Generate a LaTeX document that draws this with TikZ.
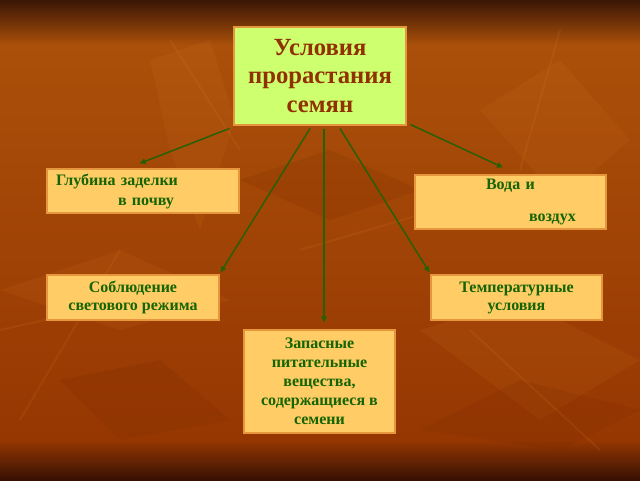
\documentclass[tikz,border=0pt]{standalone}
\usepackage{fontspec}
\setmainfont{Liberation Serif}
\usetikzlibrary{arrows.meta,calc}
\definecolor{bgA}{RGB}{58,22,4}
\definecolor{bgB}{RGB}{170,80,10}
\definecolor{bgC}{RGB}{150,55,2}
\definecolor{bgD}{RGB}{55,16,2}
\definecolor{leafc}{RGB}{220,130,40}
\definecolor{leafd}{RGB}{120,40,0}
\definecolor{titlefill}{RGB}{206,255,110}
\definecolor{titletext}{RGB}{145,48,0}
\definecolor{boxfill}{RGB}{255,204,102}
\definecolor{boxline}{RGB}{230,150,60}
\definecolor{txtgreen}{RGB}{20,100,0}
\definecolor{arrgreen}{RGB}{40,95,0}
\begin{document}
\begin{tikzpicture}[x=0.75pt,y=-0.75pt,
  titlebox/.style={draw=boxline, fill=titlefill, line width=0.8pt, inner sep=0pt,
    text=titletext, align=center, font=\fontsize{18.5}{21.4}\selectfont\bfseries},
  box/.style={draw=boxline, fill=boxfill, line width=0.8pt, inner sep=0pt,
    text=txtgreen, font=\fontsize{12}{13.5}\selectfont\bfseries},
  arr/.style={draw=arrgreen, line width=1.1pt, -{Triangle[length=4.5pt,width=4pt]}},
  leaf/.style={fill=leafc, opacity=0.10},
  leafdark/.style={fill=leafd, opacity=0.18},
  vein/.style={draw=leafc, opacity=0.13, line width=1.5pt}]
\useasboundingbox (0,0) rectangle (640,480);
% background
\shade[top color=bgA, bottom color=bgB] (0,0) rectangle (640,45);
\shade[top color=bgB, bottom color=bgC] (0,45) rectangle (640,440);
\shade[top color=bgC, bottom color=bgD] (0,440) rectangle (640,480);
% faint leaves
\fill[leaf] (150,60) -- (210,40) -- (235,120) -- (200,230) -- (170,150) -- cycle;
\fill[leaf] (0,290) -- (120,250) -- (230,300) -- (120,330) -- cycle;
\fill[leaf] (480,110) -- (560,60) -- (630,140) -- (560,200) -- cycle;
\fill[leaf] (420,330) -- (520,300) -- (640,360) -- (540,420) -- cycle;
\fill[leafdark] (240,180) -- (330,150) -- (420,190) -- (330,220) -- cycle;
\fill[leafdark] (60,380) -- (160,360) -- (230,420) -- (120,440) -- cycle;
\fill[leafdark] (420,430) -- (520,380) -- (640,410) -- (560,450) -- cycle;
\draw[vein] (170,40) -- (240,150);
\draw[vein] (560,30) -- (520,170);
\draw[vein] (20,420) -- (120,250);
\draw[vein] (300,250) -- (470,200);
\draw[vein] (470,330) -- (600,450);
\draw[vein] (0,330) -- (90,310);
% nodes
\node[titlebox, minimum width=129pt, minimum height=73.5pt] (title) at (320,76)
  {Условия\\прорастания\\семян};
\node[box, minimum width=144pt, minimum height=33pt, text width=130.5pt, align=left,
  font=\fontsize{12}{15}\selectfont\bfseries] (glub) at (143,191)
  {Глубина заделки\\\hspace*{46.5pt}в почву};
\node[box, minimum width=143.25pt, minimum height=40.5pt, text width=129.75pt, align=left,
  font=\fontsize{12}{12}\selectfont\bfseries] (voda) at (510.5,202)
  {\hspace*{46.5pt}Вода и\\[12pt]\hspace*{78.75pt}воздух};
\node[box, minimum width=129pt, minimum height=33.75pt, align=center] (sobl) at (133,297.5)
  {Соблюдение\\светового режима};
\node[box, minimum width=128.25pt, minimum height=33.75pt, align=center] (temp) at (516.5,297.5)
  {Температурные\\условия};
\node[box, minimum width=113.25pt, minimum height=77.25pt, align=center,
  font=\fontsize{12}{14.25}\selectfont\bfseries] (zap) at (319.5,381.5)
  {Запасные\\питательные\\вещества,\\содержащиеся в\\семени};
% connectors
\draw[arr] ($(title.south west)+(-4,3)$) -- ($(glub.north west)+(93,-5)$);
\draw[arr] ($(title.south)+(-10,3)$) -- ($(sobl.north east)+(1,-2)$);
\draw[arr] ($(title.south)+(4,3)$) -- ($(zap.north)+(4.5,-7)$);
\draw[arr] ($(title.south)+(20,3)$) -- ($(temp.north west)+(-1,-2)$);
\draw[arr] ($(title.south east)+(4,-1)$) -- ($(voda.north)+(-7.5,-7)$);
\end{tikzpicture}
\end{document}
